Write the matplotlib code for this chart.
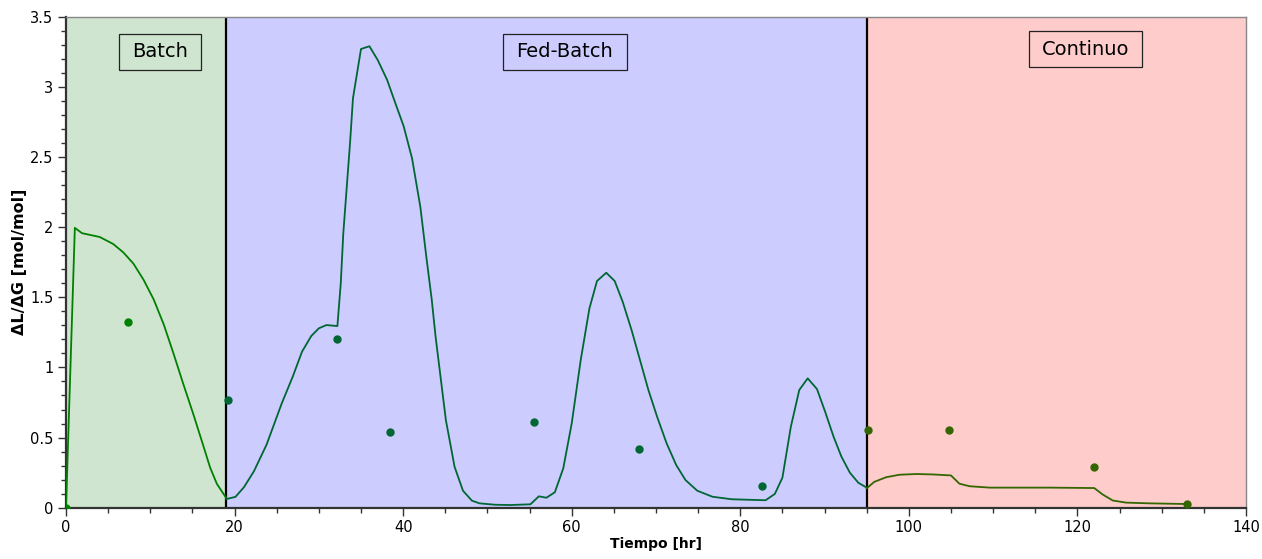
import matplotlib
matplotlib.use("Agg")
import matplotlib.pyplot as plt
from matplotlib.patches import Rectangle
from matplotlib.ticker import MultipleLocator

# Simulated ratio, batch phase
t_batch = [0.0, 1.05, 1.9, 4.0, 5.6, 6.8, 8.0, 9.2, 10.4, 11.6, 12.75, 13.9, 15.1, 16.3, 17.1, 17.9, 19.0]
r_batch = [0.0, 1.995, 1.957, 1.93, 1.88, 1.82, 1.74, 1.625, 1.485, 1.306, 1.10, 0.885, 0.668, 0.44, 0.286, 0.17, 0.07]

# Simulated ratio, fed-batch phase
t_fed = [19.0, 20.1, 21.1, 22.3, 23.8, 25.6, 26.9, 28.0, 29.1, 30.0, 30.9, 32.2, 32.6, 32.9, 33.7, 34.05,
         35.0, 36.0, 37.0, 38.1, 39.1, 40.06, 41.06, 42.04, 42.8, 43.4, 43.85, 45.07, 46.1, 47.1, 48.16,
         49.06, 50.9, 52.7, 55.1, 56.1, 57.0, 58.0, 59.0, 60.0, 61.07, 62.1, 63.0, 64.1, 65.1, 66.05, 67.1,
         68.1, 69.1, 70.13, 71.26, 72.4, 73.5, 74.9, 76.7, 79.0, 83.0, 84.1, 85.0, 86.0, 87.0, 88.0, 89.1,
         90.07, 91.07, 92.0, 93.0, 94.0, 95.0]
r_fed = [0.061, 0.077, 0.145, 0.26, 0.45, 0.744, 0.934, 1.112, 1.224, 1.279, 1.302, 1.295, 1.6, 1.956, 2.60, 2.92,
         3.27, 3.29, 3.19, 3.05, 2.88, 2.72, 2.49, 2.145, 1.765, 1.48, 1.219, 0.625, 0.292, 0.121, 0.05,
         0.031, 0.021, 0.019, 0.024, 0.081, 0.071, 0.11, 0.281, 0.60, 1.053, 1.42, 1.616, 1.675, 1.616, 1.468, 1.267,
         1.053, 0.839, 0.649, 0.459, 0.304, 0.197, 0.121, 0.078, 0.06, 0.053, 0.098, 0.214, 0.577, 0.839, 0.922, 0.846,
         0.684, 0.506, 0.364, 0.25, 0.178, 0.143]

# Simulated ratio, continuous phase
t_cont = [95.0, 95.9, 97.3, 98.9, 100.9, 102.85, 105.0, 106.0, 107.2, 109.6, 112.7, 116.7, 122.0, 123.0, 124.2,
          125.8, 128.5, 133.0]
r_cont = [0.138, 0.184, 0.217, 0.235, 0.24, 0.237, 0.23, 0.171, 0.153, 0.143, 0.143, 0.143, 0.14, 0.094, 0.051,
          0.036, 0.031, 0.026]

# Measured values
t_meas_batch = [0.0, 7.4]
r_meas_batch = [0.0, 1.324]
t_meas_fed = [19.25, 32.1, 38.5, 55.5, 68.0, 82.55]
r_meas_fed = [0.77, 1.20, 0.542, 0.609, 0.416, 0.157]
t_meas_cont = [95.2, 104.8, 122.0, 133.0]
r_meas_cont = [0.556, 0.556, 0.29, 0.023]

phase_names = ["Batch", "Fed-Batch", "Continuo"]
phase_bounds = [(0, 19), (19, 95), (95, 140)]
phase_colors = ["#cfe5cf", "#ccccff", "#ffcccc"]
line_colors = ["#008000", "#006633", "#336600"]

# Label boxes for each phase: (x0, x1, y0, y1) in data units
label_boxes = [(6.3, 16.0, 3.12, 3.38), (51.8, 66.6, 3.12, 3.38), (114.3, 127.7, 3.14, 3.40)]

fig = plt.figure(figsize=(12.62, 5.59), dpi=100)
ax = fig.add_axes([0.0523, 0.0918, 0.9350, 0.8782])

for (a, b), c in zip(phase_bounds, phase_colors):
    ax.axvspan(a, b, color=c, zorder=0, lw=0)
for xb in [19, 95]:
    ax.axvline(xb, color="black", lw=1.6, zorder=2)

ax.plot(t_batch, r_batch, color=line_colors[0], lw=1.3, zorder=3)
ax.plot(t_fed, r_fed, color=line_colors[1], lw=1.3, zorder=3)
ax.plot(t_cont, r_cont, color=line_colors[2], lw=1.3, zorder=3)

ax.plot(t_meas_batch, r_meas_batch, "o", color=line_colors[0], ms=5, zorder=4)
ax.plot(t_meas_fed, r_meas_fed, "o", color=line_colors[1], ms=5, zorder=4)
ax.plot(t_meas_cont, r_meas_cont, "o", color=line_colors[2], ms=5, zorder=4)

for name, (x0, x1, y0, y1), c in zip(phase_names, label_boxes, phase_colors):
    ax.add_patch(Rectangle((x0, y0), x1 - x0, y1 - y0, fc=c, ec="#222222", lw=0.9, zorder=5))
    ax.text((x0 + x1) / 2, (y0 + y1) / 2, name, ha="center", va="center",
            fontsize=14, color="black", zorder=6)

ax.set_xlim(0, 140)
ax.set_ylim(0, 3.5)
ax.xaxis.set_major_locator(MultipleLocator(20))
ax.xaxis.set_minor_locator(MultipleLocator(5))
ax.yaxis.set_major_locator(MultipleLocator(0.5))
ax.yaxis.set_minor_locator(MultipleLocator(0.1))
ax.set_yticks([0, 0.5, 1, 1.5, 2, 2.5, 3, 3.5])
ax.set_yticklabels(["0", "0.5", "1", "1.5", "2", "2.5", "3", "3.5"])

ax.tick_params(which="major", direction="out", length=6, width=1.0, color="#333333", labelsize=10.5, pad=3)
ax.tick_params(which="minor", direction="out", length=3.5, width=1.0, color="#333333")

for side in ["left", "bottom"]:
    ax.spines[side].set_color("#333333")
    ax.spines[side].set_linewidth(1.6)
for side in ["top", "right"]:
    ax.spines[side].set_color("#888888")
    ax.spines[side].set_linewidth(1.0)

ax.set_xlabel("Tiempo [hr]", fontsize=10, fontweight="bold", labelpad=1)
ax.set_ylabel("ΔL/ΔG [mol/mol]", fontsize=11.5, fontweight="bold")
ax.yaxis.set_label_coords(-0.033, 0.5)

fig.savefig("out.png", dpi=100)
